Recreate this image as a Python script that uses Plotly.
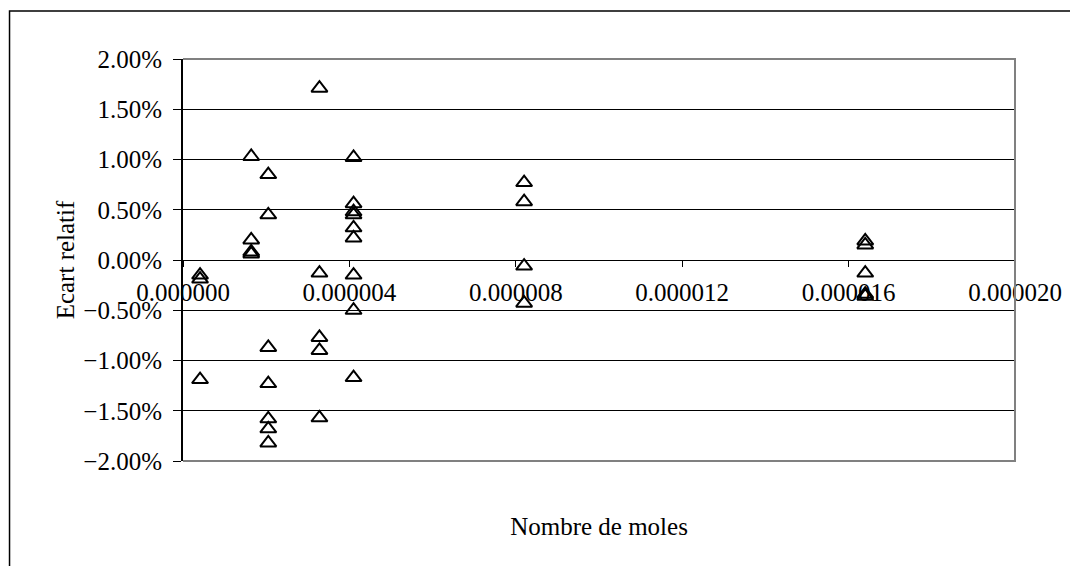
import plotly.graph_objects as go

# Nombre de moles (x) and relative deviation in percent (y)
moles = [
    0.41e-6, 0.41e-6, 0.41e-6,
    1.64e-6, 1.64e-6, 1.64e-6, 1.64e-6,
    2.05e-6, 2.05e-6, 2.05e-6, 2.05e-6, 2.05e-6, 2.05e-6, 2.05e-6,
    3.28e-6, 3.28e-6, 3.28e-6, 3.28e-6, 3.28e-6,
    4.10e-6, 4.10e-6, 4.10e-6, 4.10e-6, 4.10e-6, 4.10e-6, 4.10e-6, 4.10e-6, 4.10e-6,
    8.20e-6, 8.20e-6, 8.20e-6, 8.20e-6,
    16.4e-6, 16.4e-6, 16.4e-6, 16.4e-6, 16.4e-6,
]
ecart_pct = [
    -0.15, -0.19, -1.19,
    1.03, 0.20, 0.08, 0.06,
    0.85, 0.45, -0.87, -1.23, -1.58, -1.68, -1.82,
    1.71, -0.13, -0.77, -0.90, -1.57,
    1.02, 0.56, 0.48, 0.45, 0.32, 0.22, -0.15, -0.50, -1.17,
    0.77, 0.58, -0.06, -0.43,
    0.19, 0.15, -0.13, -0.34, -0.36,
]
ecart = [v / 100 for v in ecart_pct]

FONT = "Liberation Serif, Times New Roman, serif"

fig = go.Figure()
fig.add_trace(go.Scatter(
    x=moles, y=ecart, mode="markers",
    marker=dict(symbol="triangle-up-open", size=14, color="black",
                line=dict(color="black", width=2)),
    cliponaxis=False, showlegend=False,
))

fig.update_layout(
    width=1078, height=566,
    margin=dict(l=175, r=71, t=51, b=113),
    paper_bgcolor="white", plot_bgcolor="white",
    font=dict(family=FONT, size=25, color="black"),
    xaxis=dict(
        range=[0, 2e-5], tick0=0, dtick=4e-6, tickformat=".6f",
        anchor="free", position=0.5,
        showgrid=False, zeroline=False,
        showline=True, linecolor="black", linewidth=1,
        ticks="outside", ticklen=6, tickcolor="black",
        ticklabelstandoff=4,
        title=dict(text="Nombre de moles", standoff=212,
                   font=dict(family=FONT, size=25, color="black")),
    ),
    yaxis=dict(
        range=[-0.02, 0.02], tick0=0, dtick=0.005, tickformat=".2%",
        showgrid=True, gridcolor="black", gridwidth=1,
        zeroline=False,
        showline=True, linecolor="black", linewidth=2,
        ticks="outside", ticklen=8, tickcolor="black",
        ticklabelstandoff=6,
        title=dict(text="Ecart relatif", standoff=2,
                   font=dict(family=FONT, size=25, color="black")),
    ),
    shapes=[
        dict(type="path", xref="paper", yref="paper",
             path="M 0 1 L 1 1 L 1 0 L 0 0",
             line=dict(color="#808080", width=2), layer="above"),
        dict(type="rect", xref="paper", yref="paper",
             x0=-0.2085, x1=1.2, y0=-0.5, y1=1.1194,
             line=dict(color="black", width=1.5), layer="below"),
    ],
)

fig.write_html("out.html")
